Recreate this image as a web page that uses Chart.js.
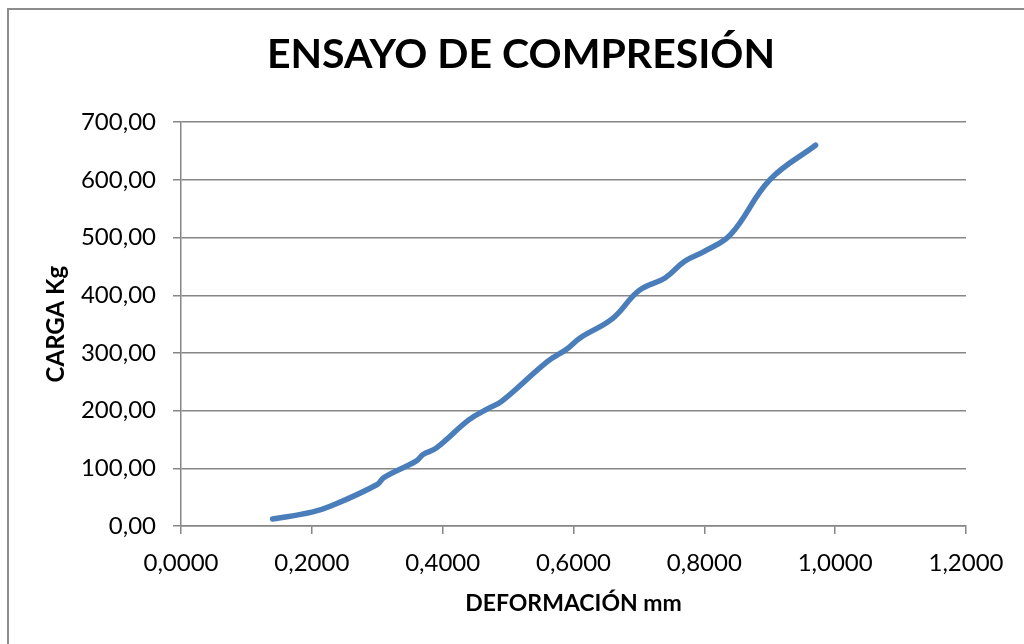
<!DOCTYPE html>
<html lang="es">
<head>
<meta charset="utf-8">
<title>Ensayo de compresión</title>
<script src="https://cdn.jsdelivr.net/npm/chart.js@4.4.1/dist/chart.umd.min.js"></script>
<style>
  html, body { margin: 0; padding: 0; background: #ffffff; }
  #wrap { width: 1024px; height: 644px; }
</style>
</head>
<body>
<div id="wrap"><canvas id="grafico" width="1024" height="644"></canvas></div>
<script>
// Deformación (mm) medida en cada escalón de carga
const deformacion = [0.14, 0.20, 0.23, 0.30, 0.31, 0.36, 0.37, 0.39, 0.44, 0.47, 0.49,
                     0.56, 0.59, 0.61, 0.66, 0.70, 0.74, 0.77, 0.80, 0.84, 0.90, 0.97];
// Carga aplicada (Kg)
const carga = [12, 24, 35, 72, 84, 113, 124, 135, 184, 204, 216,
               285, 307, 326, 360, 408, 430, 459, 476, 505, 600, 660];

const titulo = 'ENSAYO DE COMPRESIÓN';
const tituloX = 'DEFORMACIÓN mm';
const tituloY = 'CARGA Kg';

const FUENTE = 'Lato, "Open Sans", "DejaVu Sans", sans-serif';
const GRIS = '#868686';

const puntos = deformacion.map((d, i) => ({ x: d, y: carga[i] }));

// Marco exterior del gráfico (solo visibles los bordes superior e izquierdo)
const marco = {
  id: 'marco',
  beforeDraw(chart) {
    const c = chart.ctx;
    c.save();
    c.strokeStyle = '#8c8c8c';
    c.lineWidth = 2;
    c.beginPath();
    c.moveTo(8, 644);
    c.lineTo(8, 9);
    c.lineTo(1024, 9);
    c.stroke();
    c.restore();
  }
};

new Chart(document.getElementById('grafico'), {
  type: 'line',
  data: {
    datasets: [{
      data: puntos,
      borderColor: '#4a7ebb',
      borderWidth: 5.5,
      borderCapStyle: 'round',
      pointRadius: 0,
      tension: 0.4,
      fill: false
    }]
  },
  options: {
    responsive: false,
    animation: false,
    layout: { padding: { left: 18, right: 0, top: 0, bottom: 0 } },
    plugins: {
      legend: { display: false },
      tooltip: { enabled: false },
      title: {
        display: true,
        text: titulo,
        color: '#000000',
        font: { family: FUENTE, size: 41, weight: 'bold', lineHeight: 1.2 },
        padding: { top: 30, bottom: 43 }
      }
    },
    scales: {
      x: {
        type: 'linear',
        min: 0,
        max: 1.2,
        border: { display: true, color: GRIS, width: 1.5 },
        grid: { drawOnChartArea: false, drawTicks: true, tickLength: 8, color: GRIS, lineWidth: 1.5 },
        ticks: {
          stepSize: 0.2,
          color: '#000000',
          padding: 15,
          font: { family: FUENTE, size: 24 },
          callback: v => v.toFixed(4).replace('.', ',')
        },
        title: {
          display: true,
          text: tituloX,
          color: '#000000',
          font: { family: FUENTE, size: 23, weight: 'bold', lineHeight: 1.2 },
          padding: { top: 0, bottom: 27 }
        },
        afterFit(scale) { scale.height = 118; }
      },
      y: {
        type: 'linear',
        min: 0,
        max: 700,
        border: { display: true, color: GRIS, width: 1.5 },
        grid: { drawOnChartArea: true, drawTicks: true, tickLength: 8, color: GRIS, lineWidth: 1.5 },
        ticks: {
          stepSize: 100,
          color: '#000000',
          padding: 17,
          font: { family: FUENTE, size: 24 },
          callback: v => v.toFixed(2).replace('.', ',')
        },
        title: {
          display: true,
          text: tituloY,
          color: '#000000',
          font: { family: FUENTE, size: 24, weight: 'bold', lineHeight: 1.2 },
          padding: { top: 24, bottom: 0 }
        },
        afterFit(scale) { scale.width = 163; }
      },
      // Margen derecho vacío junto al área de trazado
      margenDerecho: {
        type: 'linear',
        position: 'right',
        display: true,
        grid: { display: false },
        border: { display: false },
        ticks: { display: false },
        afterFit(scale) { scale.width = 58; }
      }
    }
  },
  plugins: [marco]
});
</script>
</body>
</html>
